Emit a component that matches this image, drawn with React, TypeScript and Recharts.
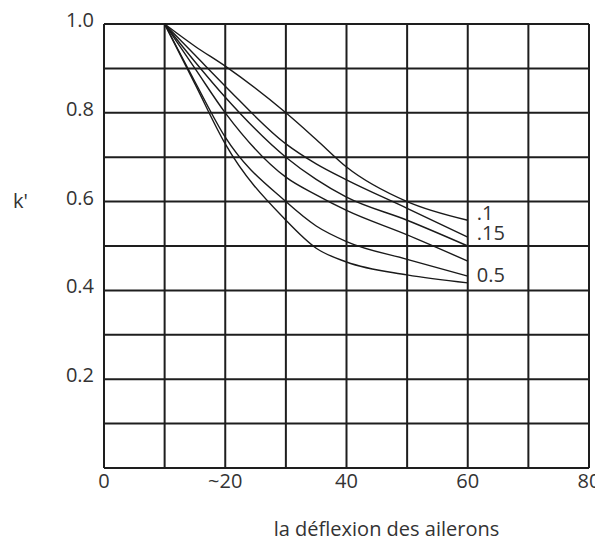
import React from 'react';
import { LineChart, Line, XAxis, YAxis, CartesianGrid, LabelList } from 'recharts';

// deflection angle (x) and k' values for the six curves
const deflection = [10, 15, 20, 30, 35, 40, 50, 60];
const curve1 = [1.0, 0.95, 0.905, 0.8, 0.74, 0.678, 0.6, 0.558];
const curve2 = [1.0, 0.93, 0.86, 0.73, 0.685, 0.649, 0.585, 0.52];
const curve3 = [1.0, 0.915, 0.835, 0.7, 0.65, 0.61, 0.558, 0.5];
const curve4 = [1.0, 0.9, 0.8, 0.655, 0.615, 0.58, 0.525, 0.466];
const curve5 = [1.0, 0.87, 0.745, 0.6, 0.545, 0.51, 0.47, 0.432];
const curve6 = [1.0, 0.865, 0.73, 0.558, 0.495, 0.464, 0.435, 0.417];
const curveNames = ['.1', '.15', '', '', '0.5', ''];

const xTicks = [0, 10, 20, 30, 40, 50, 60, 70, 80];
const xLabelledTicks = [0, 20, 40, 60, 80];
const xTickText = ['0', '~20', '40', '60', '80'];
const yTicks = [0, 0.1, 0.2, 0.3, 0.4, 0.5, 0.6, 0.7, 0.8, 0.9, 1.0];
const yLabelledTicks = [0.2, 0.4, 0.6, 0.8, 1.0];
const yTickText = ['0.2', '0.4', '0.6', '0.8', '1.0'];

const xTitle = 'la déflexion des ailerons';
const yTitle = "k'";

const curves = [curve1, curve2, curve3, curve4, curve5, curve6];
const keys = curves.map((_, i) => 'c' + (i + 1));
const data = deflection.map((x, j) => {
  const row: Record<string, number> = { x };
  curves.forEach((c, i) => {
    row[keys[i]] = c[j];
  });
  return row;
});

const FONT = '"Open Sans", "Noto Sans", sans-serif';
const TEXT = '#333';
const FS = 20;
const labelShift = [-2, 1, 0, 0, 4, 0];

const XTick = (props: any) => {
  const { x, y, payload } = props;
  const i = xLabelledTicks.indexOf(payload.value);
  if (i < 0) return <g />;
  return (
    <text x={x} y={y + 20} textAnchor="middle" fontFamily={FONT} fontSize={FS} fill={TEXT}>
      {xTickText[i]}
    </text>
  );
};

const YTick = (props: any) => {
  const { x, y, payload } = props;
  const i = yLabelledTicks.findIndex((v) => Math.abs(v - payload.value) < 1e-9);
  if (i < 0) return <g />;
  return (
    <text x={x - 4} y={y + 3} textAnchor="end" fontFamily={FONT} fontSize={FS} fill={TEXT}>
      {yTickText[i]}
    </text>
  );
};

const endLabel = (i: number) => (p: any) => {
  const name = curveNames[i];
  if (!name || p.index !== deflection.length - 1) return <g />;
  const x = p.x ?? p.viewBox?.x;
  const y = p.y ?? p.viewBox?.y;
  return (
    <text x={x + 9} y={y + 2 + labelShift[i]} fontFamily={FONT} fontSize={FS} fill={TEXT}>
      {name}
    </text>
  );
};

export default function App() {
  return (
    <div style={{ margin: -8, width: 603, height: 547, background: '#fff' }}>
      <LineChart
        width={603}
        height={547}
        data={data}
        margin={{ top: 24, right: 14, left: 0, bottom: 49 }}
      >
        <CartesianGrid stroke="#1e1e1e" strokeWidth={2} />
        <XAxis
          dataKey="x"
          type="number"
          domain={[0, 80]}
          ticks={xTicks}
          interval={0}
          axisLine={false}
          tickLine={false}
          tickSize={0}
          tickMargin={0}
          height={30}
          tick={<XTick />}
          label={{
            content: (p: any) => {
              const vb = p.viewBox;
              return (
                <text
                  x={vb.x + vb.width / 2 + 40}
                  y={vb.y + 68}
                  textAnchor="middle"
                  fontFamily={FONT}
                  fontSize={FS}
                  fill={TEXT}
                >
                  {xTitle}
                </text>
              );
            },
          }}
        />
        <YAxis
          type="number"
          domain={[0, 1]}
          ticks={yTicks}
          interval={0}
          axisLine={false}
          tickLine={false}
          tickSize={0}
          tickMargin={6}
          width={104}
          tick={<YTick />}
          label={{
            content: (p: any) => {
              const vb = p.viewBox;
              return (
                <text
                  x={vb.x + 13}
                  y={vb.y + vb.height * 0.4 + 6}
                  fontFamily={FONT}
                  fontSize={FS}
                  fill={TEXT}
                >
                  {yTitle}
                </text>
              );
            },
          }}
        />
        {keys.map((k, i) => (
          <Line
            key={k}
            dataKey={k}
            type="monotone"
            stroke="#1a1a1a"
            strokeWidth={1.4}
            dot={false}
            isAnimationActive={false}
          >
            <LabelList dataKey={k} content={endLabel(i)} />
          </Line>
        ))}
      </LineChart>
    </div>
  );
}
